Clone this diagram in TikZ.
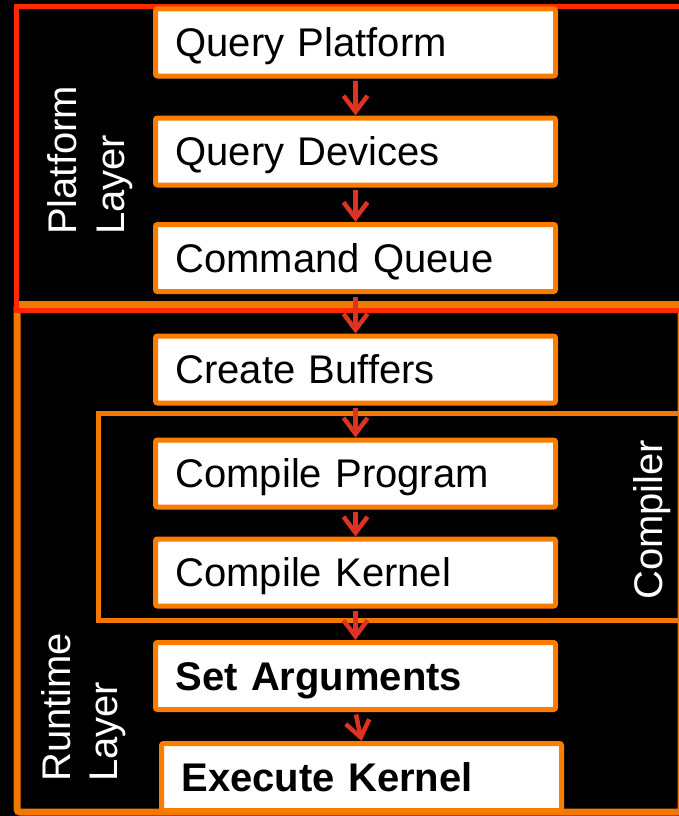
\documentclass[tikz,border=0pt]{standalone}
\usepackage{fontspec}
\setmainfont{Liberation Sans}
\usetikzlibrary{arrows.meta}
\definecolor{bgblack}{RGB}{0,0,0}
\definecolor{boxorange}{RGB}{250,125,0}
\definecolor{frameorange}{RGB}{242,120,0}
\definecolor{framered}{RGB}{255,40,0}
\definecolor{arrowred}{RGB}{222,50,35}
\begin{document}
\begin{tikzpicture}[x=1pt,y=-1pt,
  stepbox/.style={draw=boxorange, line width=5pt, fill=white, rounded corners=2pt,
    text width=360pt, inner xsep=20pt, inner ysep=0pt, minimum height=67pt,
    align=left, text height=36pt, text depth=7.4pt,
    font=\fontsize{40}{48}\selectfont, text=black},
  sidelabel/.style={rotate=90, anchor=base west, inner sep=0pt, text=white,
    font=\fontsize{40}{48}\selectfont},
  flow/.style={draw=arrowred, line width=4.5pt,
    -{Straight Barb[length=16pt,width=24pt]}, shorten <=2.5pt}
]
\useasboundingbox (0,0) rectangle (679,816);
\fill[bgblack] (0,0) rectangle (679,816);
\clip (0,0) rectangle (679,816);

% frames
\draw[frameorange, line width=7pt, rounded corners=3pt] (17,304.5) rectangle (681,812);
\draw[frameorange, line width=5pt] (98.5,413.5) rectangle (681,620.5);
\draw[framered, line width=5pt] (16,7) rectangle (690,310.5);

% side labels
\node[sidelabel] (plat1) at (76,235) {Platform};
\node[sidelabel] (plat2) at (124,235) {Layer};
\node[sidelabel] (run1) at (70,782) {Runtime};
\node[sidelabel] (run2) at (117.5,782) {Layer};
\node[sidelabel] (comp) at (662,600) {Compiler};

% steps
\node[stepbox] (qp) at (355.5,42.5) {Query Platform};
\node[stepbox] (qd) at (355.5,151.5) {Query Devices};
\node[stepbox] (cq) at (355.5,258) {Command Queue};
\node[stepbox] (cb) at (355.5,369.5) {Create Buffers};
\node[stepbox] (cp) at (355.5,473.5) {Compile Program};
\node[stepbox] (ck) at (355.5,572.5) {Compile Kernel};
\node[stepbox] (sa) at (355.5,676) {\bfseries Set Arguments};
\node[stepbox] (ek) at (361.5,777) {\bfseries Execute Kernel};

% arrows
\draw[flow] (qp.south) -- (qd.north);
\draw[flow] (qd.south) -- (cq.north);
\draw[flow] (cq.south) -- (cb.north);
\draw[flow] (cb.south) -- (cp.north);
\draw[flow] (cp.south) -- (ck.north);
\draw[flow] (ck.south) -- (sa.north);
\draw[flow] (sa.south) -- (ek.north);
\end{tikzpicture}
\end{document}
